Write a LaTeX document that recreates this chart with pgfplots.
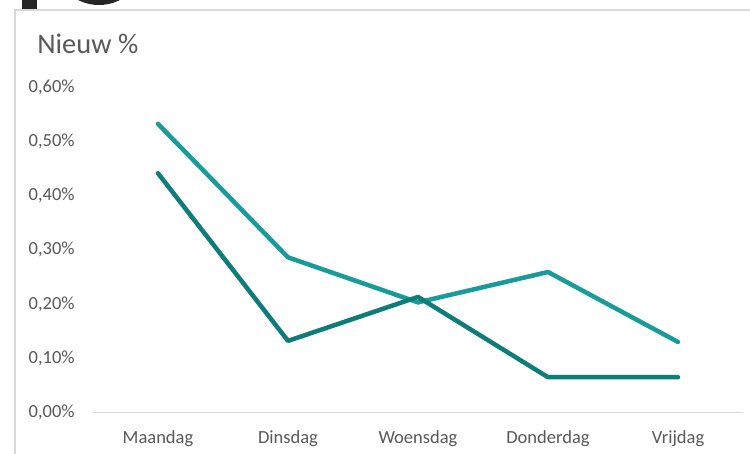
\documentclass[border=0pt]{standalone}
\usepackage{pgfplots}
\pgfplotsset{compat=1.18}
\usepackage{fontspec}
\setmainfont{Carlito}
\definecolor{txt}{HTML}{595959}
\definecolor{gridc}{HTML}{D9D9D9}
\definecolor{lightteal}{HTML}{179C9A}
\definecolor{darkteal}{HTML}{0E7C78}
\definecolor{blk}{HTML}{262626}
\begin{document}
\begin{tikzpicture}[x=0.5pt,y=0.5pt]
\useasboundingbox (0,0) rectangle (750,454);
\fill[white] (0,0) rectangle (750,454);
% cut-off black glyph at the top
\begin{scope}
\clip (0,444) rectangle (750,454);
\fill[blk] (22,444) rectangle (37,454);
\fill[blk] (99,495.6) circle (46.6);
\end{scope}
% chart frame
\draw[gridc, line width=1pt] (15,0) -- (15,444) -- (750,444);
\node[anchor=base west, inner sep=0pt, text=txt, font=\fontsize{14.2}{16}\selectfont] at (37,400) {Nieuw \%};
\begin{axis}[
  at={(46.5pt,20.75pt)}, anchor=south west,
  scale only axis, width=325pt, height=162.75pt,
  xmin=-0.5, xmax=4.5, ymin=0, ymax=0.6,
  clip=false,
  axis x line=bottom, axis y line=left,
  x axis line style={-, draw=gridc, line width=0.75pt},
  y axis line style={draw=none},
  major tick length=0pt,
  xtick={0,1,2,3,4},
  xticklabels={Maandag,Dinsdag,Woensdag,Donderdag,Vrijdag},
  ytick={0,0.1,0.2,0.3,0.4,0.5,0.6},
  yticklabel={\pgfmathprintnumber[fixed,fixed zerofill,precision=2,use comma]{\tick}\%},
  /pgf/number format/assume math mode=true,
  ticklabel style={font=\fontsize{9.25}{11}\selectfont, text=txt, inner sep=0pt},
  yticklabel style={anchor=east, xshift=-9pt},
  xticklabel style={anchor=north, yshift=-9pt},
]
\addplot[lightteal, line width=2.25pt, line cap=round, line join=round] coordinates {
 (0,0.532) (1,0.286) (2,0.203) (3,0.259) (4,0.130)
};
\addplot[darkteal, line width=2.25pt, line cap=round, line join=round] coordinates {
 (0,0.441) (1,0.132) (2,0.213) (3,0.065) (4,0.065)
};
\end{axis}
\end{tikzpicture}
\end{document}
